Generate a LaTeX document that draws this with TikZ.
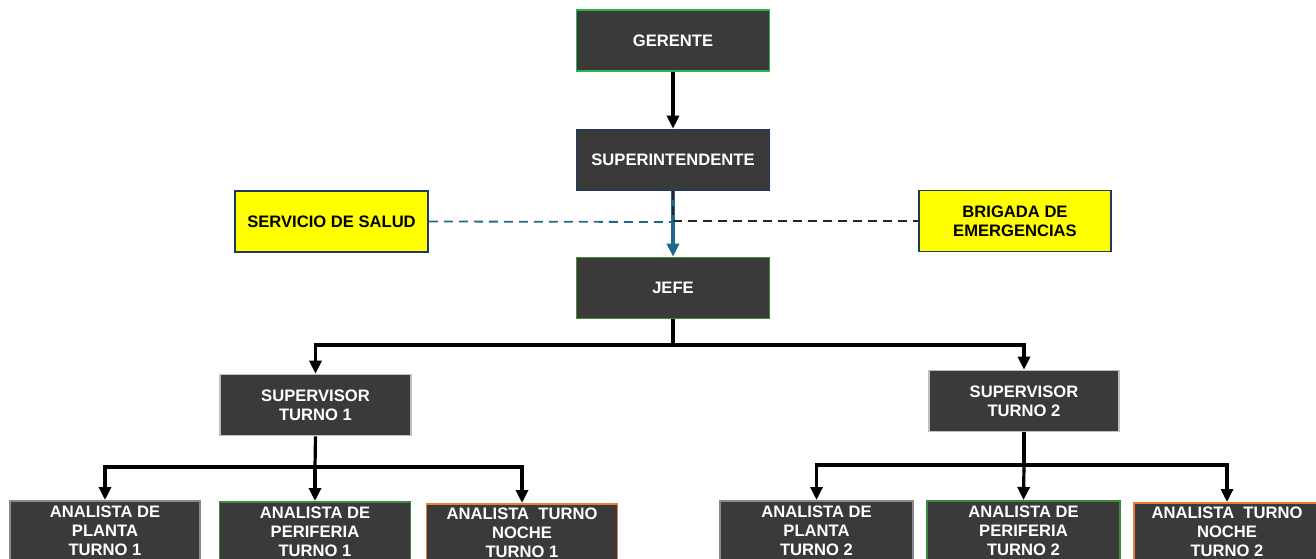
\documentclass[tikz,border=0pt]{standalone}
\usepackage{fontspec}
\setmainfont{Liberation Sans}
\usetikzlibrary{arrows.meta}
\definecolor{boxfill}{HTML}{3A3A3A}
\definecolor{gbright}{HTML}{2EB24B}
\definecolor{navy}{HTML}{1F3864}
\definecolor{olive}{HTML}{4A8A34}
\definecolor{lgray}{HTML}{BFBFBF}
\definecolor{pgreen}{HTML}{3C8A3C}
\definecolor{orng}{HTML}{E87D3E}
\definecolor{teal}{HTML}{1F6A8C}
\definecolor{ylw}{HTML}{FFFF00}
\tikzset{
  orgbox/.style={draw=#1, line width=1.6pt, fill=boxfill, text=white, font=\fontsize{16.6}{19}\selectfont\bfseries, minimum width=193pt, minimum height=61pt, inner sep=2pt, align=center},
  yelbox/.style={draw=navy, line width=1.6pt, fill=ylw, text=black, font=\fontsize{16.6}{19}\selectfont\bfseries, minimum width=193pt, minimum height=61pt, inner sep=2pt, align=center},
  anbox/.style={draw=#1, line width=1.6pt, fill=boxfill, text=white, font=\fontsize{16.6}{19}\selectfont\bfseries, minimum height=60pt, inner ysep=1pt, align=center, anchor=north},
  arr/.style={line width=3.2pt, -{Triangle[length=13pt,width=12pt]}},
  link/.style={line width=3.2pt},
  dsh/.style={line width=1.8pt, dash pattern=on 9pt off 6pt}
}
\begin{document}
\begin{tikzpicture}[x=1pt,y=-1pt]
\useasboundingbox (0,0) rectangle (1316,559);
\clip (0,0) rectangle (1316,559);
\node[orgbox=gbright] (ger) at (673,40.5) {GERENTE};
\node[orgbox=navy] (sup) at (673,160) {SUPERINTENDENTE};
\node[orgbox=olive] (jefe) at (673,288) {JEFE};
\node[yelbox] (salud) at (331.5,221.5) {SERVICIO DE SALUD};
\node[yelbox, minimum width=192pt] (brig) at (1015,221) {BRIGADA DE\\EMERGENCIAS};
\node[orgbox=lgray, minimum width=191pt] (sv1) at (315.5,405) {SUPERVISOR\\TURNO 1};
\node[orgbox=lgray, minimum width=190pt] (sv2) at (1024,401) {SUPERVISOR\\TURNO 2};

\node[anbox=lgray!60!boxfill, minimum width=190pt] (ap1) at (105,500) {ANALISTA DE\\PLANTA\\TURNO 1};
\node[anbox=pgreen, minimum width=191pt] (pe1) at (315,501) {ANALISTA DE\\PERIFERIA\\TURNO 1};
\node[anbox=orng, minimum width=191pt, minimum height=57pt, inner ysep=0pt] (no1) at (522,503) {ANALISTA\ \ TURNO\\NOCHE\\TURNO 1};
\node[anbox=lgray!60!boxfill, minimum width=193pt] (ap2) at (816.5,500) {ANALISTA DE\\PLANTA\\TURNO 2};
\node[anbox=pgreen, minimum width=193pt] (pe2) at (1023.5,500) {ANALISTA DE\\PERIFERIA\\TURNO 2};
\node[anbox=orng, minimum width=186pt, minimum height=58pt, inner ysep=0pt] (no2) at (1227,502) {ANALISTA\ \ TURNO\\NOCHE\\TURNO 2};

% top chain
\draw[arr] (ger.south) -- (sup.north);
\draw[arr, teal] (sup.south) -- (jefe.north);
\coordinate (mid) at (673,222);
\draw[dsh, teal] (salud.east) -- (mid);
\draw[dsh, black!85] (sup.south) |- (brig.west);

% jefe to supervisors
\coordinate (jb) at (673,345);
\draw[link] (jefe.south) -- (jb);
\draw[arr] (jb) -| (sv1.north);
\draw[arr] (jb) -| (sv2.north);

% supervisor 1
\coordinate (s1b) at (315,467);
\draw[link] (sv1.south) -- (s1b);
\draw[arr] (s1b) -| (ap1.north);
\draw[arr] (s1b) -- (pe1.north);
\draw[arr] (s1b) -| (no1.north);

% supervisor 2
\coordinate (s2b) at (1024,465);
\draw[link] (sv2.south) -- (s2b);
\draw[arr] (s2b) -| (ap2.north);
\draw[arr] (s2b) -- (pe2.north);
\draw[arr] (s2b) -| (no2.north);
\end{tikzpicture}
\end{document}
